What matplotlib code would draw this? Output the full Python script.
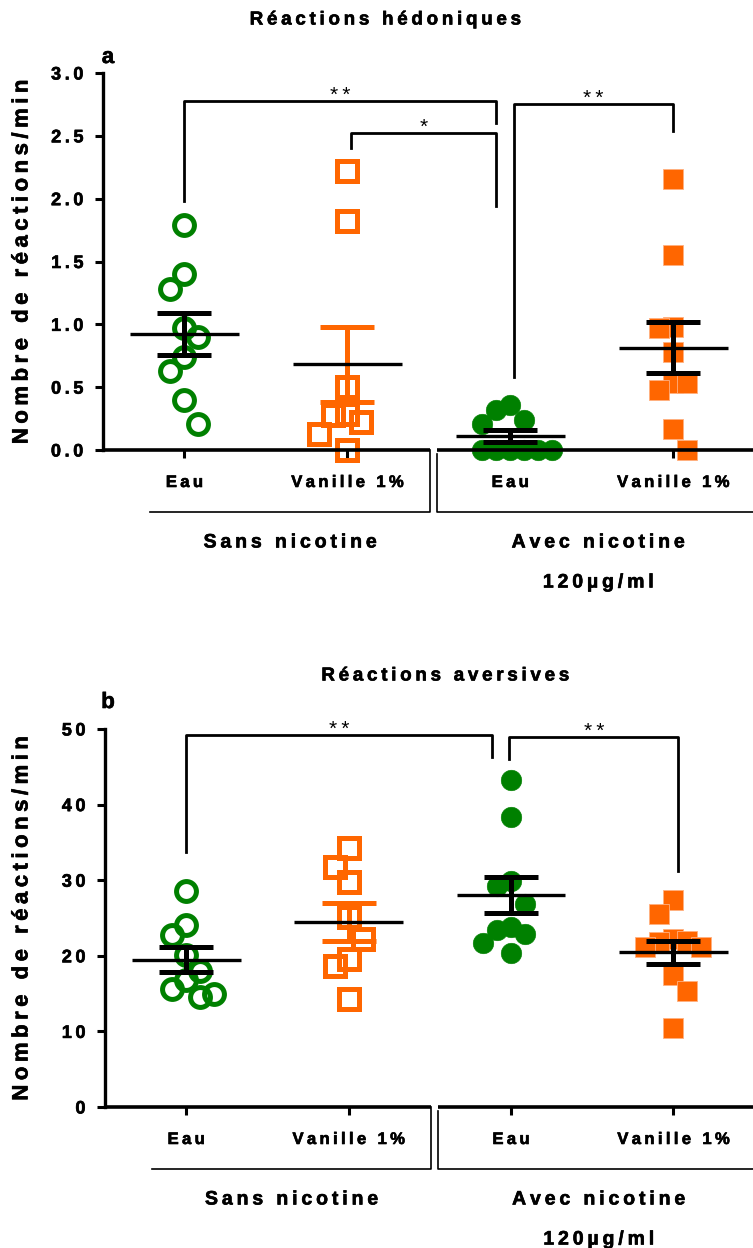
import numpy as np
import matplotlib
matplotlib.use('Agg')
import matplotlib.pyplot as plt
from matplotlib import patheffects
from matplotlib.transforms import blended_transform_factory

plt.rcParams['font.family'] = ['Liberation Sans', 'DejaVu Sans']
plt.rcParams['font.weight'] = 'bold'

GREEN = '#008000'
ORANGE = '#ff6600'
DPI = 100
HEAVY = [patheffects.withStroke(linewidth=0.45, foreground='black')]

# data
groups = ['Eau', 'Vanille 1%', 'Eau', 'Vanille 1%']
conditions = ['Sans nicotine', 'Avec nicotine', '120µg/ml']

hedo_eau = [1.79, 1.40, 1.28, 0.97, 0.90, 0.74, 0.63, 0.40, 0.21]
hedo_van = [2.22, 1.82, 0.50, 0.29, 0.28, 0.22, 0.13, 0.00]
hedo_eau_nic = [0.36, 0.32, 0.24, 0.21, 0.0, 0.0, 0.0, 0.0, 0.0, 0.0]
hedo_van_nic = [2.16, 1.55, 0.98, 0.97, 0.78, 0.53, 0.53, 0.48, 0.17, 0.00]

aver_eau = [28.6, 24.1, 22.8, 20.1, 18.0, 16.8, 15.6, 14.9, 14.6]
aver_van = [34.3, 31.7, 29.8, 25.1, 22.2, 19.6, 18.6, 14.3]
aver_eau_nic = [43.3, 38.4, 29.9, 29.2, 26.9, 23.8, 23.4, 22.9, 21.7, 20.4]
aver_van_nic = [27.4, 25.5, 22.2, 22.0, 21.8, 21.2, 21.2, 17.5, 15.3, 10.5]

# significance brackets: x1, x2, left leg end, top, right leg end, label
hedo_sig = [(1.0, 2.915, 1.98, 2.78, 2.60, '**'),
            (2.02, 2.915, 2.40, 2.52, 1.94, '*'),
            (3.02, 4.0, 0.58, 2.75, 2.54, '**')]
aver_sig = [(1.0, 2.88, 33.7, 49.2, 46.3, '**'),
            (2.99, 4.03, 46.0, 48.9, 31.2, '**')]

styles = [dict(marker='o', mfc='none', mec=GREEN, ms=14.3, mew=3.6),
          dict(marker='s', mfc='none', mec=ORANGE, ms=14.0, mew=3.6),
          dict(marker='o', mfc=GREEN, mec=GREEN, ms=14.8, mew=0.4),
          dict(marker='s', mfc=ORANGE, mec='#ffb080', ms=14.6, mew=0.6)]
err_colors = ['black', ORANGE, 'black', 'black']


def track(s, sep='\u2009'):
    return sep.join(s)


def swarm(ax, vals, step=14, min_dx=14, min_dy=24):
    ys = ax.transData.transform(np.column_stack([np.ones(len(vals)), vals]))[:, 1]
    px_unit = ax.transData.transform((1, 0))[0] - ax.transData.transform((0, 0))[0]
    placed = []
    offs = []
    flip = -1
    for y in ys:
        cands = [0]
        for i in range(1, 10):
            cands += [flip * i * step, -flip * i * step]
        for c in cands:
            if all(abs(c - px) >= min_dx or abs(y - py) >= min_dy for px, py in placed):
                break
        if c != 0:
            flip = -flip
        placed.append((c, y))
        offs.append(c / px_unit)
    return np.array(offs)


def panel(fig, rect, data, ymax, yticks, ylabels, sig, title, title_x, letter, letter_y):
    ax = fig.add_axes(rect)
    ax.set_xlim(0.5, 4.49)
    ax.set_ylim(0, ymax)
    for s in ['top', 'right', 'bottom']:
        ax.spines[s].set_visible(False)
    ax.spines['left'].set_linewidth(2.4)
    ax.set_yticks(yticks)
    ax.set_yticklabels([track(t) for t in ylabels])
    ax.tick_params(axis='y', length=6, width=2.2, pad=8, labelsize=13)
    ax.set_xticks([1, 2, 3, 4])
    ax.set_xticklabels([track(g) for g in groups])
    ax.tick_params(axis='x', length=6, width=2.2, pad=12, labelsize=12)
    for t in ax.get_xticklabels() + ax.get_yticklabels():
        t.set_path_effects(HEAVY)

    h_px = ax.get_window_extent().height
    trans = blended_transform_factory(ax.transData, ax.transAxes)

    # broken x axis
    ax.plot([0.5, 2.505], [0, 0], color='black', lw=2.6, clip_on=False,
            solid_capstyle='butt', zorder=6)
    ax.plot([2.55, 4.49], [0, 0], color='black', lw=2.6, clip_on=False,
            solid_capstyle='butt', zorder=6)
    yl = -62 / h_px
    ax.plot([0.79, 2.505, 2.505], [yl, yl, 0], color='black', lw=1.2,
            transform=trans, clip_on=False)
    ax.plot([2.55, 2.55, 4.49], [-4 / h_px, yl, yl], color='black', lw=1.2,
            transform=trans, clip_on=False)
    ax.text(1.65, -93 / h_px, track(conditions[0]), transform=trans,
            ha='center', va='center', fontsize=14, path_effects=HEAVY)
    ax.text(3.54, -93 / h_px, track(conditions[1]), transform=trans,
            ha='center', va='center', fontsize=14, path_effects=HEAVY)
    ax.text(3.54, -133 / h_px, track(conditions[2]), transform=trans,
            ha='center', va='center', fontsize=14, path_effects=HEAVY)

    for i, vals in enumerate(data):
        x = i + 1
        vals = np.array(vals)
        offs = swarm(ax, vals)
        ax.plot(x + offs, vals, ls='none', clip_on=False, zorder=3, **styles[i])
        m = vals.mean()
        sem = vals.std(ddof=1) / np.sqrt(len(vals))
        ax.errorbar(x, m, yerr=sem, fmt='none', ecolor=err_colors[i],
                    elinewidth=3.6, capsize=19.5, capthick=3.6, zorder=4)
        ax.hlines(m, x - 0.335, x + 0.335, colors='black', lw=2.4, zorder=5)

    for x1, x2, y1, yt, y2, lab in sig:
        ax.plot([x1, x1, x2, x2], [y1, yt, yt, y2], color='black', lw=2.0,
                clip_on=False, zorder=2)
        ax.annotate(track(lab), xy=((x1 + x2) / 2, yt), xytext=(0, 4),
                    textcoords='offset points', ha='center', va='center',
                    fontsize=15, fontweight='normal')

    fig.text(22 / 753, rect[1] + rect[3] / 2, track('Nombre de réactions/min'),
             rotation=90, ha='center', va='center', fontsize=16, path_effects=HEAVY)
    fig.text(title_x / 753, title[1], track(title[0]), ha='center', va='center',
             fontsize=13.5, path_effects=HEAVY)
    fig.text(108 / 753, letter_y, letter, ha='center', va='baseline', fontsize=16,
             path_effects=HEAVY)
    return ax


fig = plt.figure(figsize=(7.53, 12.48), dpi=DPI)

panel(fig, [103 / 753, 1 - 450 / 1248, 650 / 753, 377 / 1248],
      [hedo_eau, hedo_van, hedo_eau_nic, hedo_van_nic], 3.0,
      [0, 0.5, 1.0, 1.5, 2.0, 2.5, 3.0],
      ['0.0', '0.5', '1.0', '1.5', '2.0', '2.5', '3.0'], hedo_sig,
      ('Réactions hédoniques', 1 - 20 / 1248), 385, 'a', 1 - 63 / 1248)

panel(fig, [105 / 753, 1 - 1107 / 1248, 648 / 753, 378 / 1248],
      [aver_eau, aver_van, aver_eau_nic, aver_van_nic], 50,
      [0, 10, 20, 30, 40, 50], ['0', '10', '20', '30', '40', '50'], aver_sig,
      ('Réactions aversives', 1 - 676 / 1248), 445, 'b', 1 - 708 / 1248)

fig.savefig('out.png', dpi=DPI)
